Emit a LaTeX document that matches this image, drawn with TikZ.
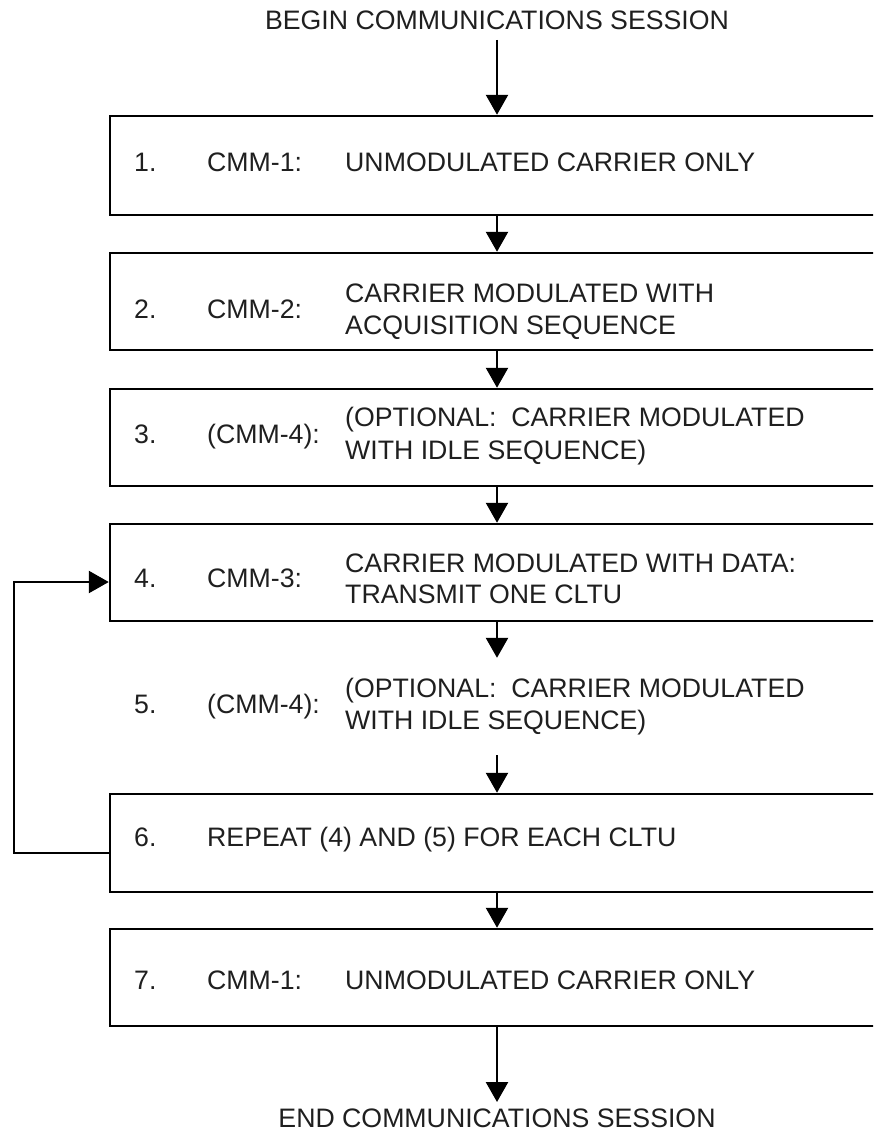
\documentclass[tikz,border=0pt]{standalone}
\usepackage{fontspec}
\setmainfont{Liberation Sans}
\usetikzlibrary{arrows.meta}
\begin{document}
\begin{tikzpicture}[x=1pt,y=-1pt,
  boxnode/.style={draw=black,line width=2.5pt,minimum width=774pt,inner sep=0pt},
  ghost/.style={minimum width=774pt,inner sep=0pt},
  txt/.style={anchor=base west,inner sep=0pt,text=black!88,font=\fontsize{26.7}{32}\selectfont},
  ttl/.style={anchor=base,inner sep=0pt,text=black!88,font=\fontsize{26.7}{32}\selectfont},
  arr/.style={line width=2.5pt,-{Triangle[width=22pt,length=20pt]}},
  lnk/.style={line width=2.5pt}]
\useasboundingbox (0,0) rectangle (873,1132);
\clip (0,0) rectangle (873,1132);
% title
\node[ttl] (t0) at (497,30) {BEGIN COMMUNICATIONS SESSION};
\coordinate (t0b) at (497,40);
% boxes
\node[boxnode,minimum height=99pt] (b1) at (497,165.5) {};
\node[boxnode,minimum height=97pt] (b2) at (497,301.5) {};
\node[boxnode,minimum height=97pt] (b3) at (497,437.5) {};
\node[boxnode,minimum height=97pt] (b4) at (497,572.5) {};
\node[ghost,minimum height=97pt] (b5) at (497,706.5) {};
\node[boxnode,minimum height=98pt] (b6) at (497,843) {};
\node[boxnode,minimum height=97pt] (b7) at (497,977.5) {};
\node[ttl] (t8) at (497,1127) {END COMMUNICATIONS SESSION};
\coordinate (t8t) at (497,1102);
% texts
\node[txt] (n1) at (134,171.5) {1.};
\node[txt] (c1) at (207,171.5) {CMM-1:};
\node[txt] (m1) at (345,171.5) {UNMODULATED CARRIER ONLY};

\node[txt] (n2) at (134,318.5) {2.};
\node[txt] (c2) at (207,318.5) {CMM-2:};
\node[txt] (m2a) at (345,302.5) {CARRIER MODULATED WITH};
\node[txt] (m2b) at (345,334.5) {ACQUISITION SEQUENCE};

\node[txt] (n3) at (134,443) {3.};
\node[txt] (c3) at (207,443) {(CMM-4):};
\node[txt] (m3a) at (345,426.5) {(OPTIONAL:\ \ CARRIER MODULATED};
\node[txt] (m3b) at (345,459.5) {WITH IDLE SEQUENCE)};

\node[txt] (n4) at (134,587.5) {4.};
\node[txt] (c4) at (207,587.5) {CMM-3:};
\node[txt] (m4a) at (345,572.5) {CARRIER MODULATED WITH DATA:};
\node[txt] (m4b) at (345,603.5) {TRANSMIT ONE CLTU};

\node[txt] (n5) at (134,713) {5.};
\node[txt] (c5) at (207,713) {(CMM-4):};
\node[txt] (m5a) at (345,697.5) {(OPTIONAL:\ \ CARRIER MODULATED};
\node[txt] (m5b) at (345,729.5) {WITH IDLE SEQUENCE)};

\node[txt] (n6) at (134,846.5) {6.};
\node[txt] (c6) at (207,846.5) {REPEAT (4) AND (5) FOR EACH CLTU};

\node[txt] (n7) at (134,989.5) {7.};
\node[txt] (c7) at (207,989.5) {CMM-1:};
\node[txt] (m7) at (345,989.5) {UNMODULATED CARRIER ONLY};
% connectors
\draw[arr] (t0b) -- (b1.north);
\draw[arr] (b1.south) -- (b2.north);
\draw[arr] (b2.south) -- (b3.north);
\draw[arr] (b3.south) -- (b4.north);
\draw[arr] (b4.south) -- (b5.north);
\draw[arr] (b5.south) -- (b6.north);
\draw[arr] (b6.south) -- (b7.north);
\draw[arr] (b7.south) -- (t8t);
% loop back
\coordinate (loopx) at (14,0);
\coordinate (lstart) at ([yshift=-10pt]b6.west);
\coordinate (lend) at ([yshift=-9.5pt]b4.west);
\draw[lnk,arr] (lstart) -- (lstart -| loopx) |- (lend);
\end{tikzpicture}
\end{document}
